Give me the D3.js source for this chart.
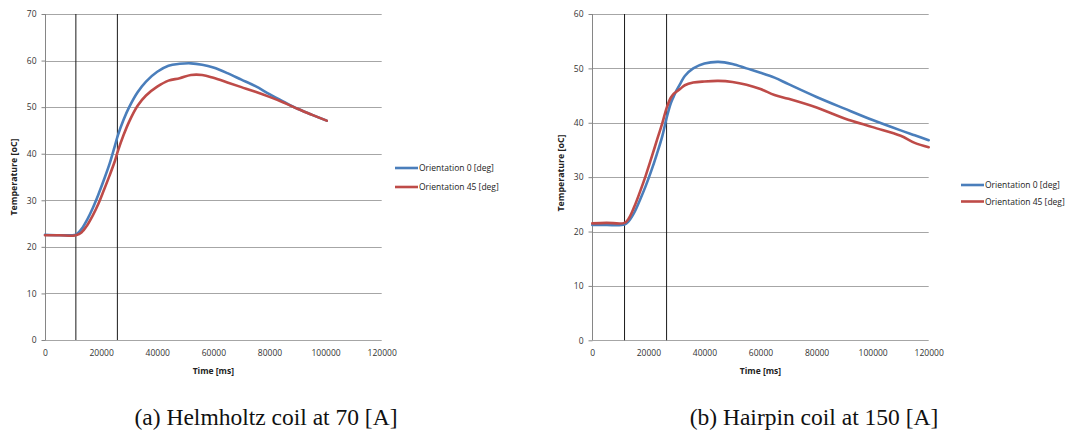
<!DOCTYPE html>
<html>
<head>
<meta charset="utf-8">
<script src="https://cdn.jsdelivr.net/npm/d3@7"></script>
<style>
  html, body { margin: 0; padding: 0; background: #fff; }
  svg { display: block; }
</style>
</head>
<body>
<svg id="fig" width="1075" height="432"></svg>
<script>
// Helmholtz coil at 70 A — time [ms] and temperature [oC] per orientation
const helmholtzTime = [0, 5000, 10000, 11000, 13000, 15000, 17000, 19000, 21000, 23000, 25000, 26000, 28000, 30000, 33000, 36000, 40000, 44000, 48000, 52000, 56000, 60000, 65000, 70000, 75000, 80000, 85000, 90000, 95000, 100400];
const helmholtzOrient0 = [22.6, 22.5, 22.5, 22.6, 23.8, 25.8, 28.3, 31.2, 34.4, 37.8, 41.9, 44.0, 47.3, 50.0, 53.2, 55.5, 57.6, 58.9, 59.3, 59.4, 59.1, 58.5, 57.3, 55.9, 54.5, 52.8, 51.2, 49.65, 48.4, 47.1];
const helmholtzOrient45 = [22.5, 22.5, 22.4, 22.5, 23.1, 24.6, 26.7, 29.2, 32.2, 35.3, 38.6, 40.6, 44.0, 46.9, 50.3, 52.5, 54.4, 55.7, 56.2, 56.9, 56.9, 56.3, 55.3, 54.3, 53.3, 52.2, 51.0, 49.65, 48.4, 47.1];
const helmholtzMarkers = [11000, 25800];

// Hairpin coil at 150 A
const hairpinTime = [0, 5000, 11500, 13000, 15000, 17000, 19000, 21000, 23000, 25000, 26500, 28000, 29000, 30000, 31500, 33000, 36000, 40000, 45000, 50000, 55000, 60000, 65000, 70000, 80000, 90000, 100000, 110000, 115000, 120000];
const hairpinOrient0 = [21.2, 21.2, 21.3, 21.9, 23.5, 25.8, 28.3, 31.1, 34.2, 37.6, 40.9, 43.6, 44.8, 45.9, 47.3, 48.6, 50.0, 50.9, 51.2, 50.8, 50.0, 49.2, 48.3, 47.1, 44.75, 42.6, 40.5, 38.6, 37.7, 36.8];
const hairpinOrient45 = [21.5, 21.6, 21.6, 22.4, 24.6, 27.3, 30.2, 33.4, 36.7, 40.0, 42.7, 44.6, 45.3, 45.7, 46.3, 46.9, 47.4, 47.6, 47.7, 47.5, 47.0, 46.2, 45.1, 44.4, 42.8, 40.8, 39.2, 37.6, 36.3, 35.5];
const hairpinMarkers = [11500, 26500];

const timeTicks = [0, 20000, 40000, 60000, 80000, 100000, 120000];
const helmholtzTempTicks = [0, 10, 20, 30, 40, 50, 60, 70];
const hairpinTempTicks = [0, 10, 20, 30, 40, 50, 60];
const seriesNames = ["Orientation 0 [deg]", "Orientation 45 [deg]"];
const captions = ["(a) Helmholtz coil at 70 [A]", "(b) Hairpin coil at 150 [A]"];

const seriesColors = ["#4a7ebb", "#be4b48"];
const sans = "'Open Sans', 'Noto Sans', sans-serif";

const svg = d3.select("#fig");

function drawPanel(opt) {
  const g = svg.append("g");
  const x = d3.scaleLinear().domain([0, 120000]).range([opt.left, opt.right]);
  const y = d3.scaleLinear().domain([0, d3.max(opt.yTicks)]).range([opt.bottom, opt.top]);

  // horizontal gridlines
  g.selectAll("line.grid").data(opt.yTicks).join("line")
    .attr("x1", opt.left).attr("x2", opt.right)
    .attr("y1", d => Math.round(y(d)) + 0.5).attr("y2", d => Math.round(y(d)) + 0.5)
    .attr("stroke", "#a6a6a6").attr("stroke-width", 1);

  // left axis line
  g.append("line")
    .attr("x1", Math.round(opt.left) + 0.5).attr("x2", Math.round(opt.left) + 0.5)
    .attr("y1", opt.top).attr("y2", opt.bottom)
    .attr("stroke", "#868686");

  // y axis labels
  const yAxis = d3.axisLeft(y).tickValues(opt.yTicks).tickSize(4).tickPadding(5);
  const ya = g.append("g").attr("transform", `translate(${Math.round(opt.left) + 0.5},0)`).call(yAxis);
  ya.select(".domain").remove();
  ya.selectAll(".tick line").attr("stroke", "#868686");
  ya.selectAll(".tick text").attr("font-family", sans).attr("font-size", 8.5).attr("fill", "#333");

  // x axis labels
  const xAxis = d3.axisBottom(x).tickValues(timeTicks).tickFormat(d3.format("d")).tickSize(0).tickPadding(10);
  const xa = g.append("g").attr("transform", `translate(0,${opt.bottom})`).call(xAxis);
  xa.select(".domain").remove();
  xa.selectAll(".tick text").attr("font-family", sans).attr("font-size", 8.5).attr("fill", "#333");

  // axis titles
  g.append("text")
    .attr("x", (opt.left + opt.right) / 2).attr("y", opt.bottom + 34)
    .attr("text-anchor", "middle").attr("font-family", sans)
    .attr("font-size", 8.5).attr("font-weight", "bold").attr("fill", "#222")
    .text("Time [ms]");
  g.append("text")
    .attr("transform", `translate(${opt.yTitleX},${opt.yTitleY}) rotate(-90)`)
    .attr("text-anchor", "middle").attr("font-family", sans)
    .attr("font-size", 8.8).attr("font-weight", "bold").attr("fill", "#222")
    .text("Temperature [oC]");

  // vertical marker lines
  g.selectAll("line.marker").data(opt.markers).join("line")
    .attr("x1", d => x(d)).attr("x2", d => x(d))
    .attr("y1", opt.top).attr("y2", opt.bottom)
    .attr("stroke", "#1a1a1a").attr("stroke-width", 1);

  // temperature curves
  const line = d3.line()
    .x(d => x(d[0])).y(d => y(d[1]))
    .curve(d3.curveCatmullRom.alpha(0.5));
  opt.series.forEach((vals, i) => {
    const pts = opt.time.map((t, k) => [t, vals[k]]);
    g.append("path").datum(pts)
      .attr("d", line)
      .attr("fill", "none")
      .attr("stroke", seriesColors[i])
      .attr("stroke-width", 2.6)
      .attr("stroke-linejoin", "round")
      .attr("stroke-linecap", "round");
  });

  // legend
  seriesNames.forEach((name, i) => {
    const ly = opt.legendY + i * opt.legendGap;
    g.append("line")
      .attr("x1", opt.legendX).attr("x2", opt.legendX + 23)
      .attr("y1", ly).attr("y2", ly)
      .attr("stroke", seriesColors[i]).attr("stroke-width", 2.6);
    g.append("text")
      .attr("x", opt.legendX + 24).attr("y", ly + 3)
      .attr("font-family", sans).attr("font-size", 8.5).attr("fill", "#222")
      .text(name);
  });

  // caption
  g.append("text")
    .attr("x", opt.captionX).attr("y", 425)
    .attr("text-anchor", "middle")
    .attr("font-family", "'Liberation Serif', 'DejaVu Serif', serif")
    .attr("font-size", 23.5).attr("fill", "#111")
    .text(opt.caption);
}

drawPanel({
  left: 45, right: 381.7, top: 14, bottom: 340,
  yTicks: helmholtzTempTicks,
  time: helmholtzTime, series: [helmholtzOrient0, helmholtzOrient45],
  markers: helmholtzMarkers,
  yTitleX: 16.5, yTitleY: 177,
  legendX: 395, legendY: 168, legendGap: 19,
  captionX: 266, caption: captions[0]
});

drawPanel({
  left: 592.3, right: 928.7, top: 14, bottom: 340.3,
  yTicks: hairpinTempTicks,
  time: hairpinTime, series: [hairpinOrient0, hairpinOrient45],
  markers: hairpinMarkers,
  yTitleX: 563.5, yTitleY: 173,
  legendX: 961, legendY: 185, legendGap: 16.5,
  captionX: 814, caption: captions[1]
});
</script>
</body>
</html>
